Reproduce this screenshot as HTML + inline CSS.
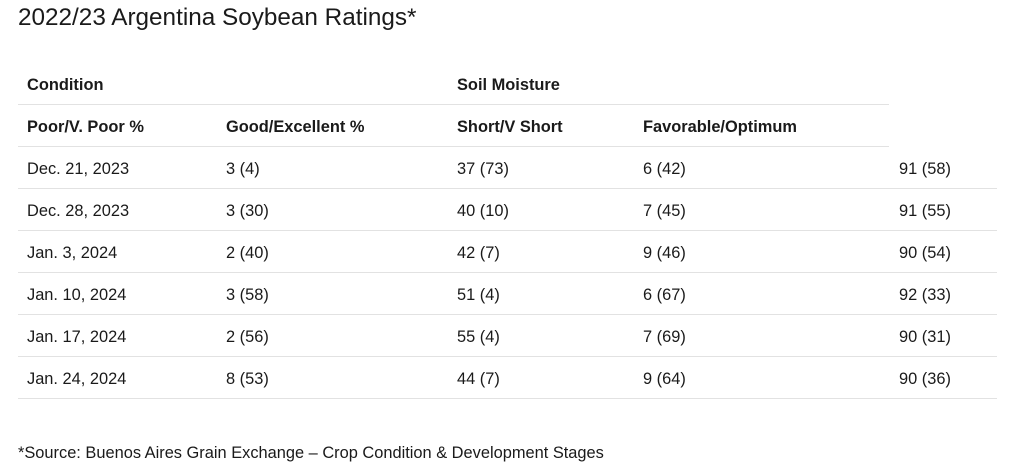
<!DOCTYPE html>
<html><head><meta charset="utf-8"><style>
body{margin:0;width:1024px;height:476px;background:#fff;font-family:"Liberation Sans",sans-serif;color:#1a1a1a;position:relative;overflow:hidden}
h1{position:absolute;left:18px;top:4px;margin:0;font-size:24.3px;font-weight:400;color:#1a1a1a}
.l{position:absolute;height:1px;background:#e2e2e2;left:18px}
.c{position:absolute;font-size:16.4px;line-height:20px;white-space:nowrap;margin-top:1px}
.b{font-weight:bold}
</style></head><body>
<h1>2022/23 Argentina Soybean Ratings*</h1>
<div class="c b" style="left:27px;top:74px">Condition</div>
<div class="c b" style="left:457px;top:74px">Soil Moisture</div>
<div class="l" style="top:104px;width:871px"></div>
<div class="c b" style="left:27px;top:116px">Poor/V. Poor %</div>
<div class="c b" style="left:226px;top:116px">Good/Excellent %</div>
<div class="c b" style="left:457px;top:116px">Short/V Short</div>
<div class="c b" style="left:643px;top:116px">Favorable/Optimum</div>
<div class="l" style="top:146px;width:871px"></div>

<div class="c" style="left:27px;top:158px">Dec. 21, 2023</div><div class="c" style="left:226px;top:158px">3 (4)</div><div class="c" style="left:457px;top:158px">37 (73)</div><div class="c" style="left:643px;top:158px">6 (42)</div><div class="c" style="left:899px;top:158px">91 (58)</div>
<div class="l" style="top:188px;width:979px"></div>
<div class="c" style="left:27px;top:200px">Dec. 28, 2023</div><div class="c" style="left:226px;top:200px">3 (30)</div><div class="c" style="left:457px;top:200px">40 (10)</div><div class="c" style="left:643px;top:200px">7 (45)</div><div class="c" style="left:899px;top:200px">91 (55)</div>
<div class="l" style="top:230px;width:979px"></div>
<div class="c" style="left:27px;top:242px">Jan. 3, 2024</div><div class="c" style="left:226px;top:242px">2 (40)</div><div class="c" style="left:457px;top:242px">42 (7)</div><div class="c" style="left:643px;top:242px">9 (46)</div><div class="c" style="left:899px;top:242px">90 (54)</div>
<div class="l" style="top:272px;width:979px"></div>
<div class="c" style="left:27px;top:284px">Jan. 10, 2024</div><div class="c" style="left:226px;top:284px">3 (58)</div><div class="c" style="left:457px;top:284px">51 (4)</div><div class="c" style="left:643px;top:284px">6 (67)</div><div class="c" style="left:899px;top:284px">92 (33)</div>
<div class="l" style="top:314px;width:979px"></div>
<div class="c" style="left:27px;top:326px">Jan. 17, 2024</div><div class="c" style="left:226px;top:326px">2 (56)</div><div class="c" style="left:457px;top:326px">55 (4)</div><div class="c" style="left:643px;top:326px">7 (69)</div><div class="c" style="left:899px;top:326px">90 (31)</div>
<div class="l" style="top:356px;width:979px"></div>
<div class="c" style="left:27px;top:368px">Jan. 24, 2024</div><div class="c" style="left:226px;top:368px">8 (53)</div><div class="c" style="left:457px;top:368px">44 (7)</div><div class="c" style="left:643px;top:368px">9 (64)</div><div class="c" style="left:899px;top:368px">90 (36)</div>
<div class="l" style="top:398px;width:979px"></div>
<div class="c" style="left:18px;top:442px">*Source: Buenos Aires Grain Exchange – Crop Condition &amp; Development Stages</div>
</body></html>
